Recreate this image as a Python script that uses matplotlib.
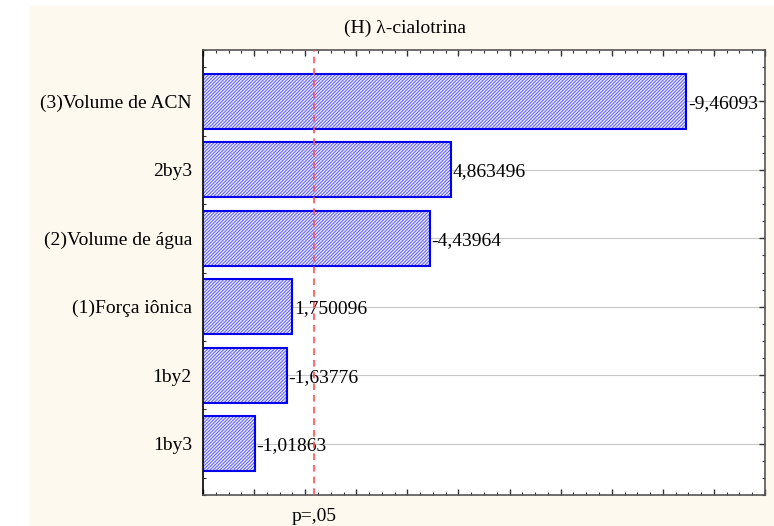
import matplotlib.pyplot as plt
from matplotlib.patches import Rectangle
from matplotlib.ticker import MultipleLocator

plt.rcParams['font.family'] = ['Liberation Serif', 'DejaVu Serif']
plt.rcParams['hatch.linewidth'] = 0.8

efeitos = ["(3)Volume de ACN", "2by3", "(2)Volume de água",
           "(1)Força iônica", "1by2", "1by3"]
valores = [-9.46093, 4.863496, -4.43964, 1.750096, -1.63776, -1.01863]
rotulos = ["-9,46093", "4,863496", "-4,43964", "1,750096", "-1,63776", "-1,01863"]
p_critico = 2.179

fs = 14

fig = plt.figure(figsize=(7.74, 5.26), dpi=100, facecolor="white")
fig.patches.append(Rectangle((30 / 774, 0), 1, 1 - 6 / 526, transform=fig.transFigure,
                             facecolor="#fef9ee", edgecolor="none", zorder=-10))
ax = fig.add_axes([203 / 774, 1 - 495 / 526, (765 - 203) / 774, (495 - 50) / 526])
ax.set_facecolor("white")

y = list(range(len(efeitos)))[::-1]
larg = [abs(v) for v in valores]

ax.barh(y, larg, height=0.8, color="#f0f0ff", edgecolor="#6464ff", hatch="//////////",
        linewidth=0, zorder=2)
ax.barh(y, larg, height=0.8, fill=False, edgecolor="#0000ee", linewidth=1.5, zorder=3)

for yi, w, txt in zip(y, larg, rotulos):
    ax.text(w + 0.03, yi - 0.03, txt, va="center", ha="left", fontsize=fs, zorder=4)

for yi in y:
    ax.axhline(yi, color="#c8c8c8", linewidth=0.8, zorder=1)

ax.axvline(p_critico, color="#ff5050", linestyle=(0, (4, 3)), linewidth=1.2, zorder=5)

ax.set_xlim(0, 11)
ax.set_ylim(-0.75, 5.75)
ax.set_yticks(y)
ax.set_yticklabels(efeitos, fontsize=fs)
ax.xaxis.set_major_locator(MultipleLocator(1))
ax.xaxis.set_minor_locator(MultipleLocator(0.25))
ax.yaxis.set_minor_locator(MultipleLocator(0.25))
ax.set_xticklabels([])
ax.tick_params(which="both", direction="in", top=True, right=True, color="#333333")
ax.tick_params(which="major", length=4, width=1)
ax.tick_params(which="minor", length=2, width=0.8)
ax.tick_params(axis="y", which="major", pad=8)

for s in ["top", "right", "bottom"]:
    ax.spines[s].set_color("#555555")
    ax.spines[s].set_linewidth(1.2)
ax.spines["left"].set_color("black")
ax.spines["left"].set_linewidth(1.2)

fig.text(405 / 774, 1 - 28 / 526, "(H) λ-cialotrina", ha="center", va="center", fontsize=fs)
ax.text(p_critico, -1.06, "p=,05", ha="center", va="center", fontsize=fs)

fig.savefig("out.png", dpi=100, facecolor=fig.get_facecolor())
